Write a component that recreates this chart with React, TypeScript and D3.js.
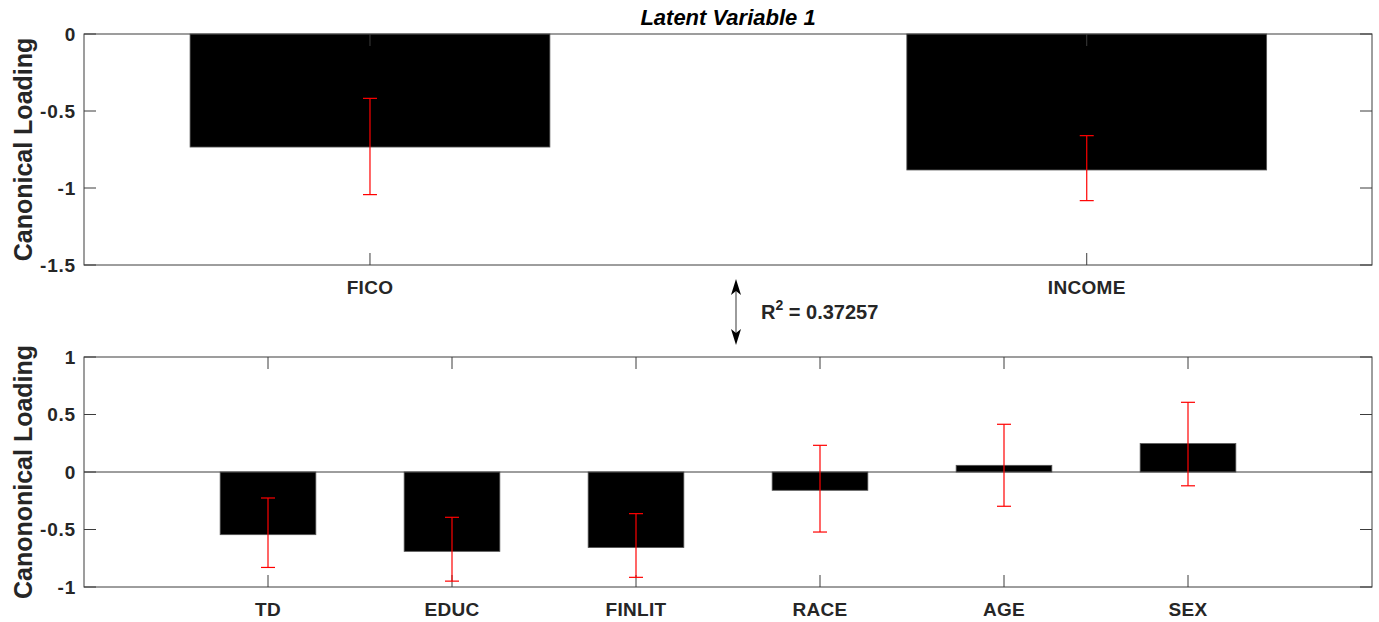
import { useEffect, useRef } from "react"
import * as d3 from "d3"

// top panel: response variables
const topCats = ["FICO", "INCOME"]
const topVals = [-0.734, -0.883]
const topLo = [-1.043, -1.082]
const topHi = [-0.418, -0.660]
const topTicks = [0, -0.5, -1, -1.5]

// bottom panel: predictors
const botCats = ["TD", "EDUC", "FINLIT", "RACE", "AGE", "SEX"]
const botVals = [-0.545, -0.69, -0.657, -0.159, 0.058, 0.247]
const botLo = [-0.83, -0.949, -0.916, -0.522, -0.298, -0.12]
const botHi = [-0.226, -0.394, -0.362, 0.232, 0.415, 0.606]
const botTicks = [1, 0.5, 0, -0.5, -1]

const rSquared = "0.37257"

const FONT = "'Liberation Sans', Arial, sans-serif"
const AX = "#3c3c3c"

export default function App() {
  const ref = useRef<SVGSVGElement>(null)
  useEffect(() => {
    if (!ref.current) return
    const svg = d3.select(ref.current)
    svg.selectAll("*").remove()
    const L = 84, R = 1372

    function panel(top: number, bottom: number, cats: string[], vals: number[], lo: number[], hi: number[],
      yDom: [number, number], ticks: number[], xDom: [number, number], barW: number, ylab: string) {
      const g = svg.append("g")
      const x = d3.scaleLinear().domain(xDom).range([L, R])
      const y = d3.scaleLinear().domain(yDom).range([bottom, top])
      const pos = cats.map((_, i) => i + 1)
      const bw = x(barW) - x(0)

      // bars
      g.selectAll("rect.bar").data(vals).join("rect")
        .attr("x", (_, i) => x(pos[i]) - bw / 2).attr("width", bw)
        .attr("y", d => y(Math.max(0, d))).attr("height", d => Math.abs(y(d) - y(0)))
        .attr("fill", "#000").attr("stroke", "#555").attr("stroke-width", 0.8)

      // baseline
      if (yDom[0] < 0 && yDom[1] > 0)
        g.append("line").attr("x1", L).attr("x2", R).attr("y1", y(0)).attr("y2", y(0)).attr("stroke", AX).attr("stroke-width", 1)

      // y ticks both sides
      ticks.forEach(t => {
        g.append("line").attr("x1", L).attr("x2", L + 12).attr("y1", y(t)).attr("y2", y(t)).attr("stroke", AX)
        g.append("line").attr("x1", R - 12).attr("x2", R).attr("y1", y(t)).attr("y2", y(t)).attr("stroke", AX)
        g.append("text").attr("x", L - 8).attr("y", y(t)).attr("dy", "0.36em").attr("text-anchor", "end")
          .style("font-family", FONT).style("font-weight", "bold").style("font-size", "19px").style("letter-spacing", "0.8px").style("fill", "#262626")
          .text(String(t))
      })

      // x ticks and labels
      pos.forEach((p, i) => {
        g.append("line").attr("x1", x(p)).attr("x2", x(p)).attr("y1", bottom).attr("y2", bottom - 12).attr("stroke", AX)
        g.append("line").attr("x1", x(p)).attr("x2", x(p)).attr("y1", top).attr("y2", top + 12).attr("stroke", AX)
        g.append("text").attr("x", x(p)).attr("y", bottom + 29).attr("text-anchor", "middle")
          .style("font-family", FONT).style("font-weight", "bold").style("font-size", "19px").style("letter-spacing", "0.3px").style("fill", "#262626")
          .text(cats[i])
      })

      // error bars
      pos.forEach((p, i) => {
        const cx = x(p)
        g.append("line").attr("x1", cx).attr("x2", cx).attr("y1", y(hi[i])).attr("y2", y(lo[i])).attr("stroke", "#ff0000").attr("stroke-width", 1.2)
        ;[hi[i], lo[i]].forEach(v => g.append("line").attr("x1", cx - 7).attr("x2", cx + 7).attr("y1", y(v)).attr("y2", y(v)).attr("stroke", "#ff0000").attr("stroke-width", 1.2))
      })

      // box
      g.append("rect").attr("x", L).attr("y", top).attr("width", R - L).attr("height", bottom - top)
        .attr("fill", "none").attr("stroke", AX).attr("stroke-width", 1)

      // y label
      g.append("text").attr("transform", `translate(32,${(top + bottom) / 2}) rotate(-90)`).attr("text-anchor", "middle")
        .style("font-family", FONT).style("font-weight", "bold").style("font-size", "25px").style("fill", "#262626")
        .text(ylab)
    }

    panel(34, 265, topCats, topVals, topLo, topHi, [-1.5, 0], topTicks, [0.601, 2.398], 0.502, "Canonical Loading")
    panel(357, 587, botCats, botVals, botLo, botHi, [-1, 1], botTicks, [0, 7], 0.52, "Canononical Loading")

    // title
    svg.append("text").attr("x", 728).attr("y", 25).attr("text-anchor", "middle")
      .style("font-family", FONT).style("font-weight", "bold").style("font-style", "italic").style("font-size", "22px").style("fill", "#000")
      .text("Latent Variable 1")

    // double arrow + R^2
    const ax = 736
    svg.append("line").attr("x1", ax).attr("x2", ax).attr("y1", 288).attr("y2", 336).attr("stroke", "#666").attr("stroke-width", 1.3)
    svg.append("path").attr("d", `M${ax},279 L${ax - 5},295 L${ax},291 L${ax + 5},295 Z`).attr("fill", "#000")
    svg.append("path").attr("d", `M${ax},345 L${ax - 5},329 L${ax},333 L${ax + 5},329 Z`).attr("fill", "#000")
    const rt = svg.append("text").attr("x", 761).attr("y", 319)
      .style("font-family", FONT).style("font-weight", "bold").style("font-size", "20px").style("fill", "#262626")
    rt.append("tspan").text("R")
    rt.append("tspan").attr("dy", -9).style("font-size", "14px").text("2")
    rt.append("tspan").attr("dy", 9).text(` = ${rSquared}`)
  }, [])
  return <svg ref={ref} width={1379} height={622} style={{ position: "absolute", left: 0, top: 0, background: "#fff" }} />
}
